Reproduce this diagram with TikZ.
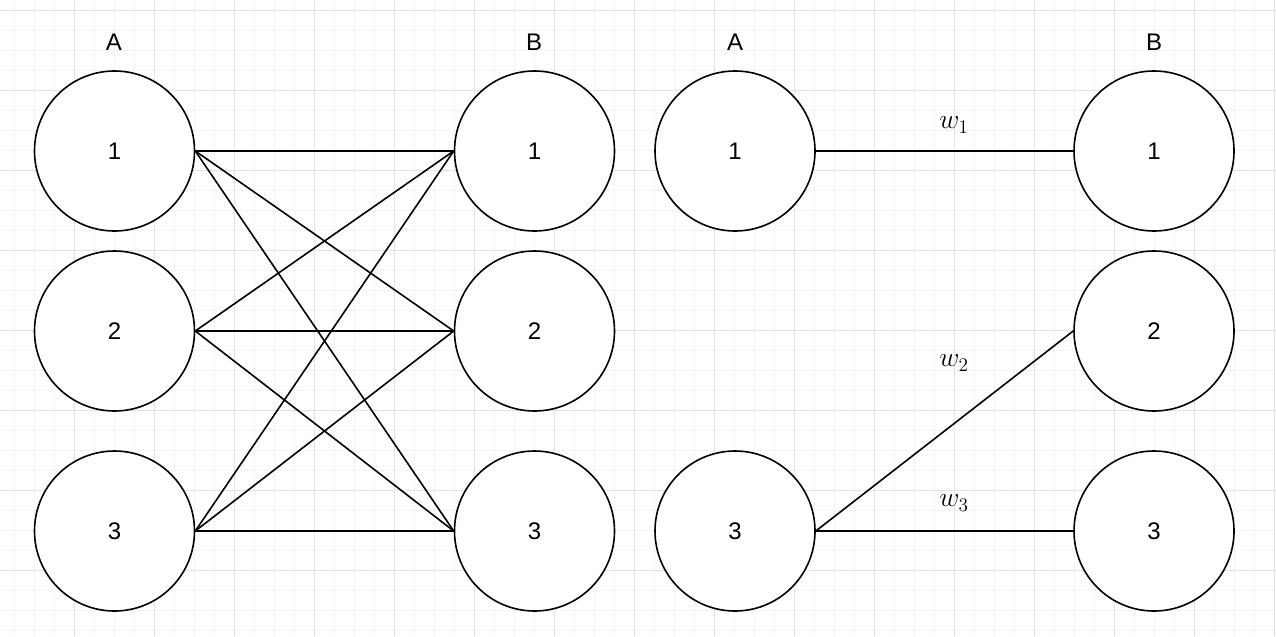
\documentclass[tikz,border=0pt]{standalone}
\usepackage{fontspec}
\setsansfont{Liberation Sans}
\usetikzlibrary{calc}
\definecolor{gridminor}{HTML}{F3F3F3}
\definecolor{gridmajor}{HTML}{E2E2E2}

\tikzset{
  vertex/.style={circle, draw, line width=1.2pt, fill=white, inner sep=0pt,
    minimum size=120pt, font=\sffamily\fontsize{18}{20}\selectfont},
  setlabel/.style={font=\sffamily\fontsize{18}{20}\selectfont},
  weight/.style={font=\fontsize{22}{24}\selectfont},
  edge/.style={line width=1.2pt}
}

\begin{document}
\begin{tikzpicture}[x=0.75pt,y=-0.75pt]

% ---------- Parameter (Pixel-Raster) ----------
\def\W{1276}
\def\H{636}

\useasboundingbox (0,0) rectangle (\W,\H);
\fill[white] (0,0) rectangle (\W,\H);

% ===================
% Hintergrundraster
% ===================
\foreach \x in {14,34,...,1274}
  \draw[gridminor, line width=0.75pt] (\x,0) -- (\x,\H);
\foreach \y in {10,30,...,630}
  \draw[gridminor, line width=0.75pt] (0,\y) -- (\W,\y);
\foreach \x in {74,154,...,1274}
  \draw[gridmajor, line width=0.75pt] (\x,0) -- (\x,\H);
\foreach \y in {10,90,...,630}
  \draw[gridmajor, line width=0.75pt] (0,\y) -- (\W,\y);

% ===================
% links: vollstaendiger bipartiter Graph
% ===================
\node[setlabel] (labA) at (114,42) {A};
\node[setlabel] (labB) at (534,42) {B};

\node[vertex] (a1) at (114.5,151) {1};
\node[vertex] (a2) at (114.5,331) {2};
\node[vertex] (a3) at (114.5,531) {3};
\node[vertex] (b1) at (534.5,151) {1};
\node[vertex] (b2) at (534.5,331) {2};
\node[vertex] (b3) at (534.5,531) {3};

\foreach \i in {1,2,3}
  \foreach \j in {1,2,3}
    \draw[edge] (a\i.east) -- (b\j.west);

% ===================
% rechts: Matching mit Gewichten
% ===================
\node[setlabel] (labC) at (735,42) {A};
\node[setlabel] (labD) at (1154,42) {B};

\node[vertex] (c1) at (735,151) {1};
\node[vertex] (c3) at (735,531) {3};
\node[vertex] (d1) at (1154,151) {1};
\node[vertex] (d2) at (1154,331) {2};
\node[vertex] (d3) at (1154,531) {3};

\draw[edge] (c1.east) -- (d1.west);
\draw[edge] (c3.east) -- (d2.west);
\draw[edge] (c3.east) -- (d3.west);

\node[weight] (w1) at (954,125) {$w_1$};
\node[weight] (w2) at (954,363) {$w_2$};
\node[weight] (w3) at (954,503) {$w_3$};

\end{tikzpicture}
\end{document}
